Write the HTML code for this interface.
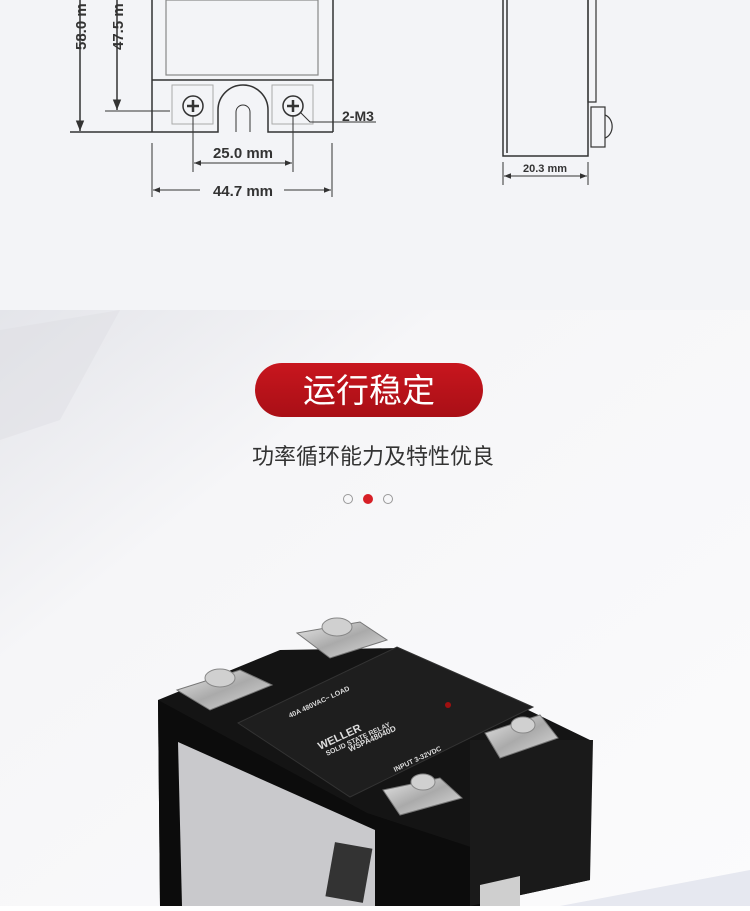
<!DOCTYPE html>
<html><head><meta charset="utf-8"><style>
body{margin:0;width:750px;height:906px;overflow:hidden;font-family:"Liberation Sans","Noto Sans CJK SC",sans-serif;}
</style></head><body>
<svg width="750" height="906" viewBox="0 0 750 906" xmlns="http://www.w3.org/2000/svg">
<defs>
<linearGradient id="bg2" x1="0" y1="0" x2="1" y2="1">
<stop offset="0" stop-color="#e4e5ea"/><stop offset="0.3" stop-color="#f6f6f8"/><stop offset="1" stop-color="#fbfbfc"/></linearGradient>
<linearGradient id="pill" x1="0" y1="0" x2="0" y2="1"><stop offset="0" stop-color="#c8161e"/><stop offset="1" stop-color="#a90f16"/></linearGradient>
<linearGradient id="metal" x1="0" y1="0" x2="1" y2="1"><stop offset="0" stop-color="#e8e8e8"/><stop offset="0.5" stop-color="#aaa"/><stop offset="1" stop-color="#ddd"/></linearGradient>
<marker id="ar" viewBox="0 0 10 10" refX="10" refY="5" markerWidth="7" markerHeight="7" orient="auto-start-reverse"><path d="M0,1L10,5L0,9z" fill="#333"/></marker>
</defs>
<rect width="750" height="310" fill="#f3f4f7"/>
<rect y="310" width="750" height="596" fill="url(#bg2)"/>
<polygon points="0,330 120,310 60,420 0,440" fill="#dcdde2" opacity="0.4"/>
<g stroke="#333" fill="none" stroke-width="1.5">
<line x1="80" y1="0" x2="80" y2="131" marker-end="url(#ar)"/>
<line x1="70" y1="132" x2="215" y2="132"/>
<line x1="117" y1="0" x2="117" y2="110" marker-end="url(#ar)"/>
<line x1="105" y1="111" x2="170" y2="111" stroke-width="1"/>
<path d="M152,0V132M333,0V132M152,80H333"/>
<rect x="166" y="0" width="152" height="75" stroke="#888" stroke-width="1.2"/>
<path d="M215,132H218V110A25,25 0 0 1 268,110V132H333" />
<path d="M236,132V112A7,7 0 0 1 250,112V132" stroke-width="1"/>
<rect x="172" y="85" width="41" height="39" stroke="#aaa" stroke-width="1"/>
<rect x="272" y="85" width="41" height="39" stroke="#aaa" stroke-width="1"/>
<circle cx="193" cy="106" r="10"/><circle cx="293" cy="106" r="10"/>
<path d="M187,106H199M193,100V112M287,106H299M293,100V112" stroke-width="2.5"/>
<path d="M300,112L310,122H376" stroke-width="1"/>
<path d="M193,115V172M293,115V172M152,143V197M332,143V197" stroke-width="1"/>
<line x1="194" y1="163" x2="292" y2="163" marker-start="url(#ar)" marker-end="url(#ar)" stroke-width="1"/>
<line x1="153" y1="190" x2="200" y2="190" marker-start="url(#ar)" stroke-width="1"/>
<line x1="284" y1="190" x2="331" y2="190" marker-end="url(#ar)" stroke-width="1"/>
<path d="M503,0V156H588V0M507,0V153" />
<path d="M588,0V102H596V0" stroke-width="1.2"/>
<rect x="591" y="107" width="14" height="40" stroke-width="1.2"/>
<path d="M605,115A10,12 0 0 1 605,138" stroke-width="1.2"/>
<path d="M503,162V185M588,162V185" stroke-width="1"/>
<line x1="504" y1="176" x2="587" y2="176" marker-start="url(#ar)" marker-end="url(#ar)" stroke-width="1"/>
</g>
<g fill="#333" font-size="15" font-weight="bold">
<text transform="translate(86,50) rotate(-90)">58.0 m</text>
<text transform="translate(123,50) rotate(-90)">47.5 m</text>
<text x="243" y="158" text-anchor="middle">25.0 mm</text>
<text x="243" y="196" text-anchor="middle">44.7 mm</text>
<text x="342" y="121" font-size="14">2-M3</text>
<text x="545" y="172" text-anchor="middle" font-size="11">20.3 mm</text>
</g>
<rect x="255" y="363" width="228" height="54" rx="27" fill="url(#pill)"/>
<text x="369" y="402" text-anchor="middle" fill="#fff" font-size="33">运行稳定</text>
<text x="373" y="464" text-anchor="middle" fill="#333" font-size="22">功率循环能力及特性优良</text>
<circle cx="348" cy="499" r="4.5" fill="none" stroke="#999"/>
<circle cx="368" cy="499" r="5" fill="#d71f26"/>
<circle cx="388" cy="499" r="4.5" fill="none" stroke="#999"/>
<polygon points="560,906 750,870 750,906" fill="#e6e8f0"/>
<!-- relay -->
<polygon points="280,650 400,648 590,740 590,880 470,906 160,906 158,700" fill="#141414"/>
<polygon points="158,700 367,813 480,850 480,906 160,906" fill="#0c0c0c"/>
<polygon points="470,740 593,740 590,880 470,906" fill="#1a1a1a"/>
<polygon points="238,723 397,647 533,707 350,797" fill="#1e1e1e" stroke="#333"/>
<polygon points="178,742 375,830 375,906 182,906" fill="#c9c9cc"/>
<rect x="330" y="845" width="38" height="55" fill="#333" transform="rotate(10 349 872)"/>
<polygon points="480,885 520,876 520,906 480,906" fill="#cfcfcf"/>
<g fill="#ddd" font-size="11" font-weight="bold">
<text transform="translate(320,750) rotate(-25)">WELLER</text>
<text transform="translate(322,745) rotate(-25)" font-size="7" dy="12">SOLID STATE RELAY</text>
<text transform="translate(350,752) rotate(-25)" font-size="8">WSPA48040D</text>
<text transform="translate(290,718) rotate(-25)" font-size="7">40A 480VAC~  LOAD</text>
<text transform="translate(395,772) rotate(-25)" font-size="7">INPUT 3-32VDC</text>
</g>
<circle cx="448" cy="705" r="3" fill="#a01010"/>
<g fill="url(#metal)" stroke="#777">
<polygon points="177,690 240,670 272,685 210,710"/>
<polygon points="297,633 360,622 387,640 330,658"/>
<polygon points="485,733 540,715 558,738 500,758"/>
<polygon points="383,790 440,778 462,798 400,815"/>
</g>
<g fill="#d0d0d0" stroke="#888">
<ellipse cx="220" cy="678" rx="15" ry="9"/><ellipse cx="337" cy="627" rx="15" ry="9"/>
<ellipse cx="523" cy="725" rx="12" ry="8"/><ellipse cx="423" cy="782" rx="12" ry="8"/>
</g>
</svg>
</body></html>
